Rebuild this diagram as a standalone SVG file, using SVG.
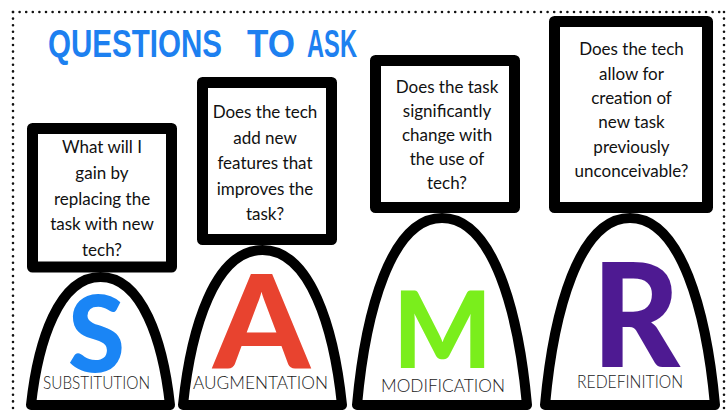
<svg xmlns="http://www.w3.org/2000/svg" width="727" height="412" viewBox="0 0 727 412">
  <style>
    .dots { fill: none; stroke: #111; stroke-width: 2.6; stroke-linecap: round; stroke-dasharray: 0 6.6; }
    .box { fill: #fff; stroke: #000; stroke-width: 11; stroke-linejoin: round; }
    .dome { fill: #fff; stroke: #000; stroke-width: 10; stroke-linejoin: round; }
    .q { font-family: Lato, "Open Sans", "Liberation Sans", sans-serif; font-size: 17px; fill: #111; text-anchor: middle; }
    .big { font-family: Lato, "Liberation Sans", sans-serif; font-weight: 900; text-anchor: middle; }
    .lbl { font-family: Lato, "Liberation Sans", sans-serif; font-weight: 300; font-size: 17px; fill: #1a1a1a; text-anchor: middle; }
    .title { font-family: "Liberation Sans", Arial, sans-serif; font-weight: bold; font-size: 38px; fill: #1d80f0; }
  </style>
  <rect x="0" y="0" width="727" height="412" fill="#fff"/>
  <g id="border">
    <path class="dots" d="M13,12 H725"/>
    <path class="dots" d="M13,12 V410"/>
    <path class="dots" d="M724,12 V412"/>
  </g>
  <g id="title">
    <text class="title" x="48" y="57" textLength="174" lengthAdjust="spacingAndGlyphs">QUESTIONS</text>
    <text class="title" x="247" y="57" textLength="48" lengthAdjust="spacingAndGlyphs">TO</text>
    <text class="title" x="307" y="57" textLength="50" lengthAdjust="spacingAndGlyphs">ASK</text>
  </g>
  <g id="connectors"></g>
  <g id="substitution">
    <path class="dome" d="M31,405 C38,341 59,277 100.5,277 C142,277 163,341 170,405 Z"/>
    <text class="big" x="96.5" y="372" font-size="107" fill="#1a85f5" textLength="57" lengthAdjust="spacingAndGlyphs">S</text>
    <text class="lbl" x="96.5" y="389" textLength="107" lengthAdjust="spacingAndGlyphs">SUBSTITUTION</text>
    <rect class="box" x="32.5" y="128.5" width="139" height="138.5"/>
    <text class="q" x="102" y="153">What will I</text>
    <text class="q" x="102" y="179">gain by</text>
    <text class="q" x="102" y="204.5">replacing the</text>
    <text class="q" x="102" y="230">task with new</text>
    <text class="q" x="102" y="256">tech?</text>
  </g>
  <g id="augmentation">
    <path class="dome" d="M183,405 C191,327.5 215,250 262.5,250 C310,250 334,327.5 342,405 Z"/>
    <text class="big" x="261.5" y="368" font-size="129" fill="#e8432f" textLength="97" lengthAdjust="spacingAndGlyphs">A</text>
    <text class="lbl" x="260.5" y="389" textLength="135" lengthAdjust="spacingAndGlyphs">AUGMENTATION</text>
    <rect class="box" x="202.5" y="82.5" width="129" height="157"/>
    <text class="q" x="265" y="118">Does the tech</text>
    <text class="q" x="265" y="143.5">add new</text>
    <text class="q" x="265" y="169">features that</text>
    <text class="q" x="265" y="194.5">improves the</text>
    <text class="q" x="265" y="220">task?</text>
  </g>
  <g id="modification">
    <path class="dome" d="M357,405 C365.5,311.5 391,218 442,218 C493,218 518.5,311.5 527,405 Z"/>
    <text class="big" x="442.5" y="368" font-size="106" fill="#7aee1c" textLength="99" lengthAdjust="spacingAndGlyphs">M</text>
    <text class="lbl" x="443" y="392" textLength="124" lengthAdjust="spacingAndGlyphs">MODIFICATION</text>
    <rect class="box" x="375.5" y="60.5" width="139" height="147"/>
    <text class="q" x="447" y="93">Does the task</text>
    <text class="q" x="447" y="117">significantly</text>
    <text class="q" x="447" y="141">change with</text>
    <text class="q" x="447" y="165">the use of</text>
    <text class="q" x="447" y="189">tech?</text>
  </g>
  <g id="redefinition">
    <path class="dome" d="M545,405 C553.5,311.5 579,218 630,218 C681,218 706.5,311.5 715,405 Z"/>
    <text class="big" x="636" y="367" font-size="144" fill="#4e1a92" textLength="88" lengthAdjust="spacingAndGlyphs">R</text>
    <text class="lbl" x="630" y="388" textLength="106" lengthAdjust="spacingAndGlyphs">REDEFINITION</text>
    <rect class="box" x="554.5" y="21.5" width="153" height="186"/>
    <text class="q" x="631.5" y="55">Does the tech</text>
    <text class="q" x="631.5" y="79.5">allow for</text>
    <text class="q" x="631.5" y="104">creation of</text>
    <text class="q" x="631.5" y="128">new task</text>
    <text class="q" x="631.5" y="152.5">previously</text>
    <text class="q" x="631.5" y="177">unconceivable?</text>
  </g>
</svg>
